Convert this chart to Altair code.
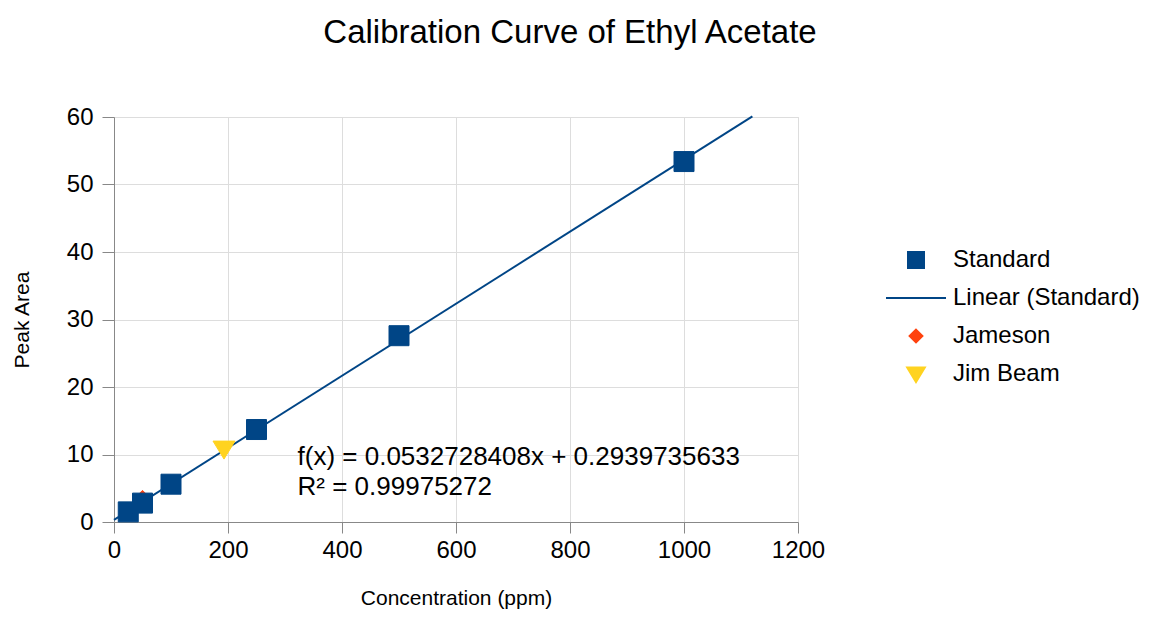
import altair as alt
import pandas as pd

std_conc = [25, 50, 100, 250, 500, 1000]
std_area = [1.5, 2.8, 5.6, 13.7, 27.6, 53.4]
jameson_conc = [50]
jameson_area = [3.5]
jimbeam_conc = [193]
jimbeam_area = [10.8]

series_names = ["Standard", "Linear (Standard)", "Jameson", "Jim Beam"]
series_colors = ["#004586", "#004586", "#ff420e", "#ffd320"]
# symbol outlines in the unit box, scaled by the mark size
series_shapes = [
    "M-1,-1H1V1H-1Z",
    "M-3.75,0H3.75",
    "M0,-0.8L0.8,0L0,0.8L-0.8,0Z",
    "M-1.1,-0.8H1.1L0,1Z",
]

annot_x = [322]
annot_y = [9.6]
annot_text = [["f(x) = 0.0532728408x + 0.2939735633", "R² = 0.99975272"]]

rows = []
for c, a in zip(jameson_conc, jameson_area):
    rows.append({"conc": c, "area": a, "series": "Jameson"})
for c, a in zip(std_conc, std_area):
    rows.append({"conc": c, "area": a, "series": "Standard"})
for c, a in zip(jimbeam_conc, jimbeam_area):
    rows.append({"conc": c, "area": a, "series": "Jim Beam"})
pts = pd.DataFrame(rows)
pts["ord"] = range(len(pts))
std = pd.DataFrame({"conc": std_conc, "area": std_area})
ann = pd.DataFrame({"x": annot_x, "y": annot_y, "t": annot_text})

FONT = "Liberation Sans"

xs = alt.Scale(domain=[0, 1200], nice=False)
ys = alt.Scale(domain=[0, 60], nice=False)

xaxis = alt.Axis(values=[0, 200, 400, 600, 800, 1000, 1200], title="Concentration (ppm)", format="d",
                 titleFontSize=21, titleFontWeight="normal", titlePadding=25,
                 labelFontSize=24, labelPadding=5, grid=True, tickSize=11, labelFlush=False)
yaxis = alt.Axis(values=[0, 10, 20, 30, 40, 50, 60], title="Peak Area", format="d",
                 titleFontSize=21, titleFontWeight="normal", titlePadding=34,
                 labelFontSize=24, labelPadding=9, grid=True, tickSize=12)

line = alt.Chart(std).transform_regression(
    "conc", "area", extent=[0, 1120]
).mark_line(color="#004586", strokeWidth=2).encode(
    x=alt.X("conc:Q", scale=xs, axis=xaxis),
    y=alt.Y("area:Q", scale=ys, axis=yaxis),
)

legend = alt.Legend(title=None, orient="none", legendX=790, legendY=131,
                    labelFontSize=24, labelFont=FONT, labelColor="#000000", labelLimit=400,
                    rowPadding=14, labelOffset=25, symbolSize=256, symbolStrokeWidth=2)

points = alt.Chart(pts).mark_point(filled=True, opacity=1, strokeWidth=1, size=400).encode(
    x=alt.X("conc:Q", scale=xs),
    y=alt.Y("area:Q", scale=ys),
    shape=alt.Shape("series:N", scale=alt.Scale(domain=series_names, range=series_shapes), legend=legend),
    fill=alt.Fill("series:N", scale=alt.Scale(domain=series_names, range=series_colors), legend=legend),
    stroke=alt.Stroke("series:N", scale=alt.Scale(domain=series_names, range=series_colors), legend=legend),
    order=alt.Order("ord:Q"),
)

text = alt.Chart(ann).mark_text(align="left", baseline="middle", fontSize=26, font=FONT,
                                 lineHeight=30, color="#000000").encode(
    x=alt.X("x:Q", scale=xs),
    y=alt.Y("y:Q", scale=ys),
    text="t",
)

chart = alt.layer(line, points, text).properties(
    width=684, height=405,
    title=alt.TitleParams("Calibration Curve of Ethyl Acetate", fontSize=33, font=FONT,
                          fontWeight="normal", anchor="middle", dx=114, offset=55, color="#000000"),
    autosize=alt.AutoSizeParams(type="none"),
    padding={"left": 106, "top": 109, "right": 347, "bottom": 87},
).configure_view(stroke="#b3b3b3", strokeWidth=1).configure_axis(
    gridColor="#b3b3b3", domainColor="#b3b3b3", tickColor="#b3b3b3",
    labelFont=FONT, titleFont=FONT, labelColor="#000000", titleColor="#000000",
).configure(background="white")

chart.save("out.html", embed_options={"renderer": "svg", "actions": False})
